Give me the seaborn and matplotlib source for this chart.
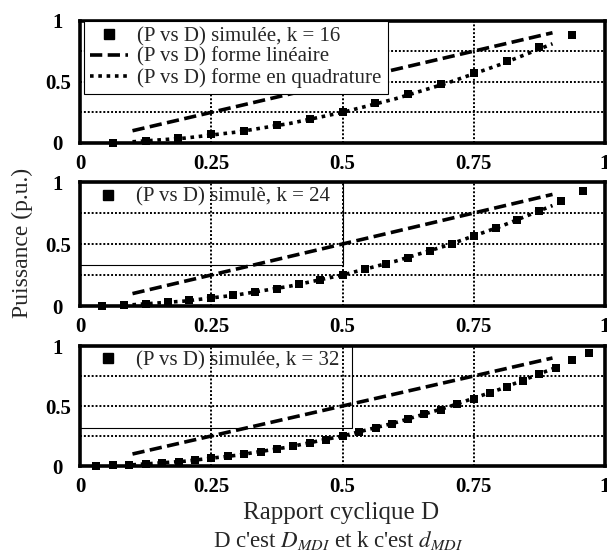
import matplotlib
matplotlib.use("Agg")
import matplotlib.pyplot as plt
import seaborn as sns
from matplotlib.lines import Line2D
from matplotlib.patches import Rectangle

# ---------------- data ----------------
d_k16 = [0.0625, 0.125, 0.1875, 0.25, 0.3125, 0.375, 0.4375, 0.5, 0.5625,
         0.625, 0.6875, 0.75, 0.8125, 0.875, 0.9375]
p_k16 = [0.0, 0.02, 0.04, 0.07, 0.10, 0.15, 0.20, 0.25, 0.33, 0.40, 0.48,
         0.57, 0.67, 0.78, 0.88]

d_k24 = [0.042, 0.083, 0.125, 0.167, 0.208, 0.25, 0.292, 0.333, 0.375, 0.417,
         0.458, 0.5, 0.542, 0.583, 0.625, 0.667, 0.708, 0.75, 0.792, 0.833,
         0.875, 0.917, 0.958]
p_k24 = [0.0, 0.01, 0.015, 0.03, 0.045, 0.065, 0.085, 0.11, 0.14, 0.175,
         0.21, 0.25, 0.295, 0.34, 0.39, 0.445, 0.50, 0.565, 0.63, 0.695,
         0.765, 0.85, 0.93]

d_k32 = [0.031, 0.063, 0.094, 0.125, 0.156, 0.188, 0.219, 0.25, 0.281, 0.313,
         0.344, 0.375, 0.406, 0.438, 0.469, 0.5, 0.531, 0.563, 0.594, 0.625,
         0.656, 0.688, 0.719, 0.75, 0.781, 0.813, 0.844, 0.875, 0.906, 0.938,
         0.969]
p_k32 = [0.0, 0.005, 0.01, 0.016, 0.025, 0.035, 0.05, 0.065, 0.08, 0.10,
         0.12, 0.14, 0.165, 0.19, 0.22, 0.25, 0.28, 0.315, 0.35, 0.39,
         0.43, 0.47, 0.515, 0.56, 0.61, 0.66, 0.71, 0.765, 0.82, 0.88, 0.94]

lin_d = [0.1, 0.9]
lin_p = [0.1, 0.9]
quad_d = [0.1, 0.2, 0.3, 0.4, 0.5, 0.6, 0.7, 0.8, 0.9]
quad_p = [0.01, 0.04, 0.09, 0.16, 0.25, 0.36, 0.49, 0.64, 0.81]

x_ticks = [0, 0.25, 0.5, 0.75, 1]
x_tick_labels = ["0", "0.25", "0.5", "0.75", "1"]
y_ticks = [0, 0.25, 0.5, 0.75, 1]
y_tick_labels = ["0", "", "0.5", "", "1"]

sim_labels = ["(P vs D) simulée, k = 16", "(P vs D) simulè, k = 24",
              "(P vs D) simulée, k = 32"]
lin_label = "(P vs D) forme linéaire"
quad_label = "(P vs D) forme en quadrature"
y_label = "Puissance (p.u.)"
x_label = "Rapport cyclique D"
note = "D c'est $D_{MDI}$ et k c'est $d_{MDI}$"

# ---------------- style ----------------
sns.set_theme(style="white")
plt.rcParams['font.family'] = ['Liberation Serif', 'DejaVu Serif']
plt.rcParams['mathtext.fontset'] = 'stix'

W, H = 607, 555
fig = plt.figure(figsize=(W / 100, H / 100), dpi=100)
fig.patch.set_facecolor('white')

boxes = [(80, 20.5, 605, 143), (80, 182, 605, 306), (80, 346, 605, 466)]
sims = [(d_k16, p_k16), (d_k24, p_k24), (d_k32, p_k32)]
frames = [None, (0.50, 0.33), (0.518, 0.32)]

DASH = (0, (3.4, 1.5))
DOT = (0, (1, 1.3))

for i, (l, t, r, b) in enumerate(boxes):
    ax = fig.add_axes([l / W, 1 - b / H, (r - l) / W, (b - t) / H])
    ax.set_facecolor('white')
    d, p = sims[i]
    sns.lineplot(x=lin_d, y=lin_p, ax=ax, color='black', lw=2.6,
                 linestyle=DASH, zorder=3)
    sns.lineplot(x=quad_d, y=quad_p, ax=ax, color='black', lw=2.6,
                 linestyle=DOT, zorder=3)
    sns.scatterplot(x=d, y=p, ax=ax, marker='s', s=40, color='black',
                    edgecolor='black', linewidth=0, zorder=6, clip_on=False)
    ax.set_xlim(0, 1)
    ax.set_ylim(0, 1)
    ax.set_xticks(x_ticks)
    ax.set_xticklabels(x_tick_labels, fontweight='bold')
    ax.set_yticks(y_ticks)
    ax.set_yticklabels(y_tick_labels, fontweight='bold')
    ax.set_xlabel("")
    ax.set_ylabel("")
    ax.grid(True, color='black', linestyle=(0, (1, 1)), lw=1.4)
    ax.tick_params(axis='both', length=0, labelsize=15, colors='black')
    ax.tick_params(axis='x', pad=8)
    ax.tick_params(axis='y', pad=16)
    for lab in ax.get_yticklabels():
        lab.set_horizontalalignment('center')
    for s in ax.spines.values():
        s.set_visible(True)
        s.set_color('black')
        s.set_linewidth(2.6)
        s.set_zorder(7)

    sim_handle = Line2D([], [], marker='s', ls='none', color='black',
                        markersize=6.5)
    if i == 0:
        handles = [sim_handle,
                   Line2D([], [], color='black', lw=2.6, linestyle=DASH),
                   Line2D([], [], color='black', lw=2.6, linestyle=DOT)]
        labels = [sim_labels[0], lin_label, quad_label]
        leg = ax.legend(handles, labels, loc='upper left',
                        bbox_to_anchor=(0.008, 1.0), frameon=True,
                        fancybox=False, edgecolor='black', framealpha=1,
                        fontsize=15, borderpad=0.3, labelspacing=0.05,
                        handlelength=1.8, handletextpad=0.45,
                        borderaxespad=0)
        leg.get_frame().set_linewidth(0.8)
        leg.set_zorder(10)
    else:
        leg = ax.legend([sim_handle], [sim_labels[i]], loc='upper left',
                        bbox_to_anchor=(0.008, 1.0), frameon=False,
                        fontsize=15, borderpad=0.25, handlelength=1.8,
                        handletextpad=0.45, borderaxespad=0)
        leg.set_zorder(10)
        fw, fb = frames[i]
        ax.add_patch(Rectangle((0, fb), fw, 1 - fb, transform=ax.transAxes,
                               fill=False, ec='black', lw=0.8, zorder=4))

fig.text(22 / W, 1 - 243 / H, y_label, rotation=90, ha='center',
         va='center', fontsize=17)
fig.text(341 / W, 1 - 513 / H, x_label, ha='center', va='center',
         fontsize=18)
fig.text(338 / W, 1 - 540 / H, note, ha='center', va='center',
         fontsize=16.5)

fig.savefig("out.png", dpi=100, facecolor='white')
